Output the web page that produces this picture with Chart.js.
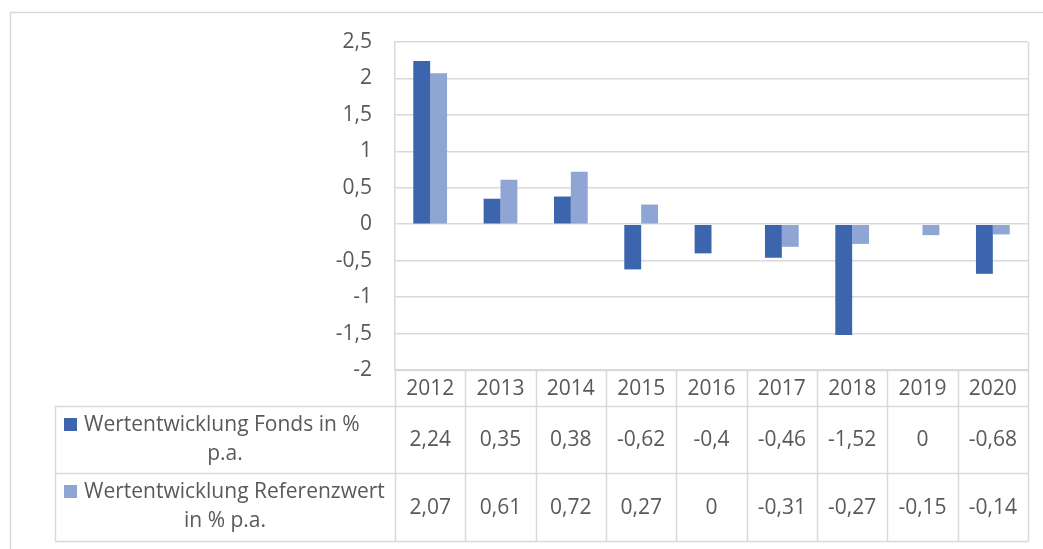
<!DOCTYPE html>
<html>
<head>
<meta charset="utf-8">
<script src="https://cdn.jsdelivr.net/npm/chart.js@4/dist/chart.umd.min.js"></script>
<style>
  html, body { margin: 0; padding: 0; background: #fff; }
  #wrap { width: 1043px; height: 549px; }
</style>
</head>
<body>
<div id="wrap"><canvas id="chart" width="1043" height="549"></canvas></div>
<script>
const years = ['2012', '2013', '2014', '2015', '2016', '2017', '2018', '2019', '2020'];
const fonds = [2.24, 0.35, 0.38, -0.62, -0.4, -0.46, -1.52, 0, -0.68];
const referenz = [2.07, 0.61, 0.72, 0.27, 0, -0.31, -0.27, -0.15, -0.14];
const seriesNames = [
  ['Wertentwicklung Fonds in %', 'p.a.'],
  ['Wertentwicklung Referenzwert', 'in % p.a.']
];
const yTicks = { min: -2, max: 2.5, step: 0.5 };

const colFonds = '#3d65ad';
const colRef = '#8fa5d4';
const lineCol = '#d9d9d9';
const textCol = '#595959';
const fontFam = '"Open Sans", "Noto Sans", sans-serif';
const fontSize = 21;

const fmt = v => String(v).replace('.', ',');

// data table under the plot + outer frame
const tablePlugin = {
  id: 'dataTable',
  afterDraw(chart) {
    const ctx = chart.ctx;
    const area = chart.chartArea;
    const x = chart.scales.x;
    const half = (area.right - area.left) / years.length / 2;
    const legLeft = 55;
    const rowTop = area.bottom;
    const rowHead = rowTop + 36;
    const rowMid = rowHead + 67;
    const rowEnd = rowMid + 68;

    ctx.save();
    ctx.strokeStyle = lineCol;
    ctx.lineWidth = 1.5;

    // outer frame
    ctx.beginPath();
    ctx.moveTo(10.5, 549); ctx.lineTo(10.5, 12.5); ctx.lineTo(1043, 12.5);
    ctx.stroke();

    ctx.beginPath();
    // right edge of plot
    ctx.moveTo(area.right + 0.5, area.top); ctx.lineTo(area.right + 0.5, rowEnd);
    // horizontal lines
    ctx.moveTo(area.left, rowTop + 0.5); ctx.lineTo(area.right, rowTop + 0.5);
    ctx.moveTo(legLeft, rowHead + 0.5); ctx.lineTo(area.right, rowHead + 0.5);
    ctx.moveTo(legLeft, rowMid + 0.5); ctx.lineTo(area.right, rowMid + 0.5);
    ctx.moveTo(legLeft, rowEnd + 0.5); ctx.lineTo(area.right + 0.5, rowEnd + 0.5);
    // vertical lines
    ctx.moveTo(legLeft + 0.5, rowHead); ctx.lineTo(legLeft + 0.5, rowEnd);
    years.forEach((y, i) => {
      const l = Math.round(x.getPixelForValue(i) - half) + 0.5;
      ctx.moveTo(l, rowTop); ctx.lineTo(l, rowEnd);
    });
    ctx.stroke();

    ctx.fillStyle = textCol;
    ctx.font = fontSize + 'px ' + fontFam;
    ctx.textAlign = 'center';
    ctx.textBaseline = 'middle';
    years.forEach((y, i) => {
      const cx = x.getPixelForValue(i);
      ctx.fillText(y, cx, (rowTop + rowHead) / 2 + 1);
      ctx.fillText(fmt(fonds[i]), cx, (rowHead + rowMid) / 2 + 1);
      ctx.fillText(fmt(referenz[i]), cx, (rowMid + rowEnd) / 2 + 1);
    });

    // legend cells
    const legCenter = (legLeft + area.left) / 2;
    [[rowHead, colFonds], [rowMid, colRef]].forEach(([top, col], k) => {
      const l1 = top + 19, l2 = top + 48;
      ctx.fillStyle = col;
      ctx.fillRect(64, l1 - 7, 13, 13);
      ctx.fillStyle = textCol;
      ctx.textAlign = 'left';
      ctx.fillText(seriesNames[k][0], 84, l1);
      ctx.textAlign = 'center';
      ctx.fillText(seriesNames[k][1], legCenter, l2);
    });
    ctx.restore();
  }
};

new Chart(document.getElementById('chart'), {
  type: 'bar',
  data: {
    labels: years,
    datasets: [
      { label: seriesNames[0].join(' '), data: fonds, backgroundColor: colFonds },
      { label: seriesNames[1].join(' '), data: referenz, backgroundColor: colRef }
    ]
  },
  options: {
    responsive: false,
    animation: false,
    layout: { padding: { top: 42, right: 15, bottom: 179, left: 0 } },
    datasets: { bar: { categoryPercentage: 0.48, barPercentage: 1 } },
    plugins: { legend: { display: false }, tooltip: { enabled: false } },
    scales: {
      x: { display: false },
      y: {
        min: yTicks.min,
        max: yTicks.max,
        afterFit(scale) { scale.width = 395; },
        ticks: {
          stepSize: yTicks.step,
          padding: 23,
          color: textCol,
          font: { family: fontFam, size: fontSize },
          callback: v => fmt(v)
        },
        grid: { color: lineCol, lineWidth: 1.5, drawTicks: false },
        border: { color: lineCol, width: 1.5 }
      }
    }
  },
  plugins: [tablePlugin]
});
</script>
</body>
</html>
